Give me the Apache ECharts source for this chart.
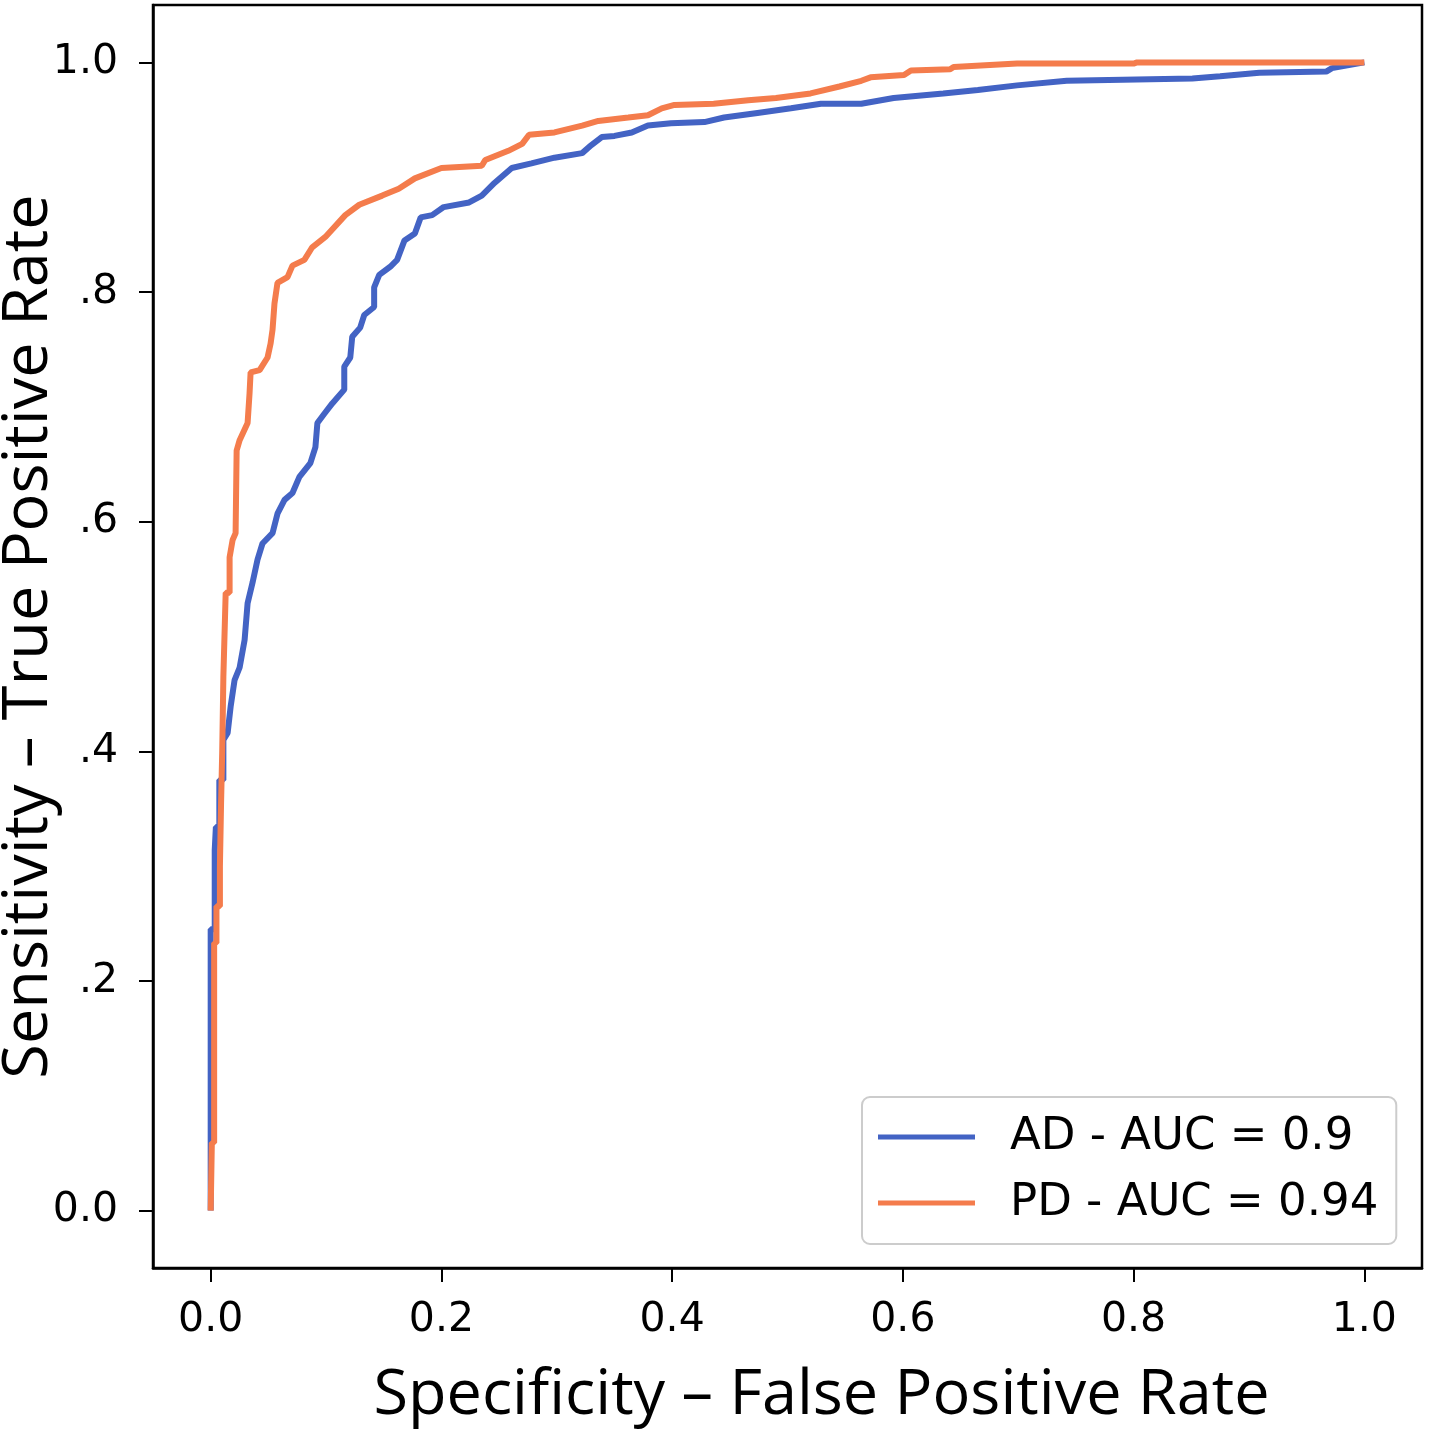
<!DOCTYPE html>
<html>
<head>
<meta charset="utf-8">
<script src="https://cdn.jsdelivr.net/npm/echarts@6/dist/echarts.min.js"></script>
<style>
html,body{margin:0;padding:0;background:#fff;}
#chart{width:1437px;height:1434px;}
</style>
</head>
<body>
<div id="chart"></div>
<script>
// ---- data ----
const seriesNames = ['AD - AUC = 0.9', 'PD - AUC = 0.94'];

const adFpr = [0, 0, 0.0035, 0.0035, 0.0045, 0.0045, 0.0075, 0.0075, 0.011, 0.011, 0.0147, 0.0173, 0.0207, 0.0251, 0.0294, 0.032, 0.0363, 0.0406, 0.0449, 0.0536, 0.0579, 0.064, 0.0709, 0.0769, 0.0864, 0.0908, 0.0925, 0.0985, 0.1054, 0.1158, 0.1158, 0.121, 0.1227, 0.1296, 0.1331, 0.1417, 0.1417, 0.1461, 0.1556, 0.1616, 0.168, 0.177, 0.182, 0.192, 0.202, 0.224, 0.235, 0.246, 0.261, 0.278, 0.298, 0.322, 0.33, 0.339, 0.35, 0.365, 0.379, 0.399, 0.428, 0.445, 0.474, 0.503, 0.529, 0.564, 0.592, 0.635, 0.665, 0.699, 0.742, 0.851, 0.875, 0.909, 0.967, 0.972, 1.0];
const adTpr = [0, 0.245, 0.245, 0.314, 0.314, 0.334, 0.334, 0.375, 0.375, 0.41, 0.416, 0.439, 0.462, 0.473, 0.497, 0.529, 0.547, 0.567, 0.581, 0.59, 0.607, 0.619, 0.625, 0.639, 0.651, 0.665, 0.686, 0.694, 0.703, 0.715, 0.735, 0.743, 0.761, 0.769, 0.78, 0.787, 0.804, 0.815, 0.822, 0.828, 0.845, 0.851, 0.865, 0.867, 0.874, 0.878, 0.884, 0.895, 0.908, 0.912, 0.917, 0.921, 0.928, 0.935, 0.936, 0.939, 0.945, 0.947, 0.948, 0.952, 0.956, 0.96, 0.964, 0.964, 0.969, 0.973, 0.976, 0.98, 0.984, 0.986, 0.988, 0.991, 0.992, 0.995, 1.0];

const pdFpr = [0, 0.001, 0.003, 0.003, 0.005, 0.005, 0.008, 0.008, 0.009, 0.009, 0.010, 0.010, 0.011, 0.011, 0.012, 0.013, 0.0164, 0.0164, 0.019, 0.0216, 0.0225, 0.0251, 0.032, 0.0337, 0.0346, 0.0424, 0.0493, 0.0519, 0.0536, 0.0553, 0.0579, 0.0666, 0.0709, 0.0812, 0.088, 0.0994, 0.1167, 0.1288, 0.1487, 0.163, 0.177, 0.2, 0.235, 0.238, 0.258, 0.27, 0.276, 0.298, 0.322, 0.336, 0.362, 0.379, 0.391, 0.402, 0.436, 0.466, 0.49, 0.52, 0.545, 0.564, 0.572, 0.601, 0.607, 0.641, 0.644, 0.699, 0.8, 0.803, 1.0];
const pdTpr = [0, 0.059, 0.059, 0.233, 0.233, 0.265, 0.265, 0.3, 0.3, 0.355, 0.355, 0.40, 0.40, 0.465, 0.465, 0.538, 0.538, 0.569, 0.584, 0.59, 0.662, 0.671, 0.686, 0.712, 0.73, 0.732, 0.743, 0.755, 0.767, 0.79, 0.808, 0.813, 0.823, 0.828, 0.839, 0.848, 0.867, 0.876, 0.884, 0.89, 0.899, 0.908, 0.91, 0.915, 0.923, 0.929, 0.937, 0.939, 0.945, 0.949, 0.952, 0.954, 0.96, 0.963, 0.964, 0.967, 0.969, 0.973, 0.979, 0.984, 0.987, 0.989, 0.993, 0.994, 0.996, 0.999, 0.999, 1.0, 1.0];

const xTickValues = [0, 0.2, 0.4, 0.6, 0.8, 1.0];
const xTickLabels = ['0.0', '0.2', '0.4', '0.6', '0.8', '1.0'];
const yTickValues = [0, 0.2, 0.4, 0.6, 0.8, 1.0];
const yTickLabels = ['0.0', '.2', '.4', '.6', '.8', '1.0'];

const xTitle = 'Specificity \u2013 False Positive Rate';
const yTitle = 'Sensitivity \u2013 True Positive Rate';

// ---- build ----
function pairs(xs, ys) { return xs.map((x, i) => [x, ys[i]]); }
function lbl(values, labels) {
  return function (v) {
    for (let i = 0; i < values.length; i++) if (Math.abs(values[i] - v) < 1e-9) return labels[i];
    return '';
  };
}

const colors = ['#4363c4', '#f47c4c'];
const titleFont = { fontFamily: 'Open Sans', fontSize: 63, color: '#000' };
const chart = echarts.init(document.getElementById('chart'), null, { renderer: 'canvas' });
chart.setOption({
  animation: false,
  backgroundColor: '#ffffff',
  grid: {
    left: 153, top: 5, right: 15, bottom: 166,
    outerBoundsMode: 'none', containLabel: false,
    show: true, borderColor: '#000', borderWidth: 2.5, backgroundColor: 'transparent'
  },
  xAxis: {
    type: 'value', min: -0.05, max: 1.05,
    name: xTitle, nameLocation: 'middle', nameGap: 97, nameMoveOverlap: false,
    nameTextStyle: Object.assign({ padding: [0, 0, 0, 68] }, titleFont),
    axisLine: { show: true, onZero: false, lineStyle: { color: '#000', width: 2.5 } },
    axisTick: { show: true, length: 14, lineStyle: { color: '#000', width: 2 }, customValues: xTickValues },
    axisLabel: { customValues: xTickValues, formatter: lbl(xTickValues, xTickLabels), fontFamily: 'DejaVu Sans', fontSize: 41, color: '#000', margin: 32 },
    splitLine: { show: false }
  },
  yAxis: {
    type: 'value', min: -0.05, max: 1.05,
    name: yTitle, nameLocation: 'middle', nameGap: 92, nameMoveOverlap: false,
    nameTextStyle: Object.assign({}, titleFont),
    axisLine: { show: true, onZero: false, lineStyle: { color: '#000', width: 2.5 } },
    axisTick: { show: true, length: 14, lineStyle: { color: '#000', width: 2 }, customValues: yTickValues },
    axisLabel: { customValues: yTickValues, formatter: lbl(yTickValues, yTickLabels), fontFamily: 'DejaVu Sans', fontSize: 41, color: '#000', margin: 35 },
    splitLine: { show: false }
  },
  legend: {
    orient: 'vertical', left: 862, top: 1097,
    data: seriesNames,
    icon: 'rect', itemWidth: 97, itemHeight: 5, itemGap: 20,
    padding: [17, 18, 18, 16],
    backgroundColor: '#ffffff', borderColor: '#cccccc', borderWidth: 2, borderRadius: 8,
    textStyle: { fontFamily: 'DejaVu Sans', fontSize: 45, color: '#000', lineHeight: 46, padding: [0, 0, 0, 30] }
  },
  series: [
    { name: seriesNames[0], type: 'line', data: pairs(adFpr, adTpr), showSymbol: false, symbol: 'none',
      lineStyle: { color: colors[0], width: 6 }, itemStyle: { color: colors[0] }, z: 2 },
    { name: seriesNames[1], type: 'line', data: pairs(pdFpr, pdTpr), showSymbol: false, symbol: 'none',
      lineStyle: { color: colors[1], width: 6 }, itemStyle: { color: colors[1] }, z: 3 }
  ]
});
</script>
</body>
</html>
